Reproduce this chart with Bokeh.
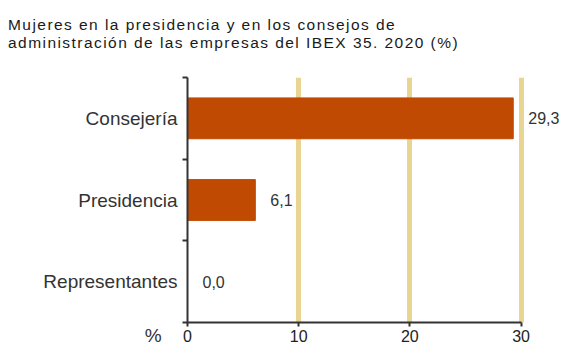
from bokeh.plotting import figure
from bokeh.layouts import column
from bokeh.models import Range1d, FixedTicker, LabelSet, ColumnDataSource, Div
from bokeh.core.properties import value
from bokeh.embed import file_html
from bokeh.resources import INLINE

title_lines = ["Mujeres en la presidencia y en los consejos de",
               "administración de las empresas del IBEX 35. 2020 (%)"]
categories = ["Representantes", "Presidencia", "Consejería"]
values = [0.0, 6.1, 29.3]
x_ticks = [0, 10, 20, 30]
unit_label = "%"

FONT = "Liberation Sans"
BAR = "#C14A02"
GRID = "#E8D591"
AXIS = "#333333"

n = len(categories)
pos = [i + 0.5 for i in range(n)]
src = ColumnDataSource(dict(cat=categories, y=pos, v=values,
                            txt=[f"{v:.1f}".replace(".", ",") for v in values]))

TITLE_H = 60
title_html = "".join(f"<div>{t}</div>" for t in title_lines)
title = Div(text=f'<div style="font-family:\'{FONT}\';font-size:15.5px;'
                 f'line-height:17.5px;letter-spacing:1.45px;color:#1a1a1a;'
                 f'padding:16px 0 0 8px;white-space:nowrap;">{title_html}</div>',
            width=565, height=TITLE_H, margin=(0, 0, 0, 0))

p = figure(width=565, height=345 - TITLE_H, output_backend="svg",
           toolbar_location=None,
           x_range=Range1d(0, 34), y_range=Range1d(0, n),
           min_border_left=187, min_border_right=0, min_border_top=77 - TITLE_H,
           min_border_bottom=23)
p.title = None
p.outline_line_color = None

p.hbar(y="y", right="v", left=0, height=0.5, source=src, color=BAR)

# grid
p.ygrid.visible = False
p.xgrid.ticker = FixedTicker(ticks=x_ticks[1:])
p.xgrid.grid_line_color = GRID
p.xgrid.grid_line_width = 5

# x axis
xa = p.xaxis[0]
xa.ticker = FixedTicker(ticks=x_ticks)
xa.bounds = (x_ticks[0], x_ticks[-1])
xa.axis_line_color = AXIS
xa.axis_line_width = 2
xa.major_tick_line_color = AXIS
xa.major_tick_line_width = 2
xa.major_tick_in = 0
xa.major_tick_out = 4
xa.minor_tick_line_color = None
xa.major_label_standoff = 3
xa.major_label_text_font = FONT
xa.major_label_text_font_size = "16px"
xa.major_label_text_color = "#222222"

# y axis: category labels at centres, ticks at boundaries, unit label at 0
nb = "\u00a0"
ya = p.yaxis[0]
ya.ticker = FixedTicker(ticks=[0] + pos, minor_ticks=list(range(n + 1)))
ya.major_label_overrides = {0: "\n" + unit_label + nb * 3,
                            **{pv: c for pv, c in zip(pos, categories)}}
ya.axis_line_color = AXIS
ya.axis_line_width = 2
ya.major_tick_line_color = None
ya.major_tick_in = 0
ya.major_tick_out = 0
ya.minor_tick_line_color = AXIS
ya.minor_tick_line_width = 2
ya.minor_tick_in = 0
ya.minor_tick_out = 5
ya.major_label_standoff = 5
ya.major_label_text_font = FONT
ya.major_label_text_font_size = "19px"
ya.major_label_text_color = "#333333"

# value labels
p.add_layout(LabelSet(x="v", y="y", text="txt", source=src, x_offset=15,
                      text_baseline="middle", text_align="left",
                      text_font=value(FONT), text_font_size="16px",
                      text_color="#333333"))

layout = column(title, p, spacing=0)
open("out.html", "w").write(file_html(layout, INLINE))
